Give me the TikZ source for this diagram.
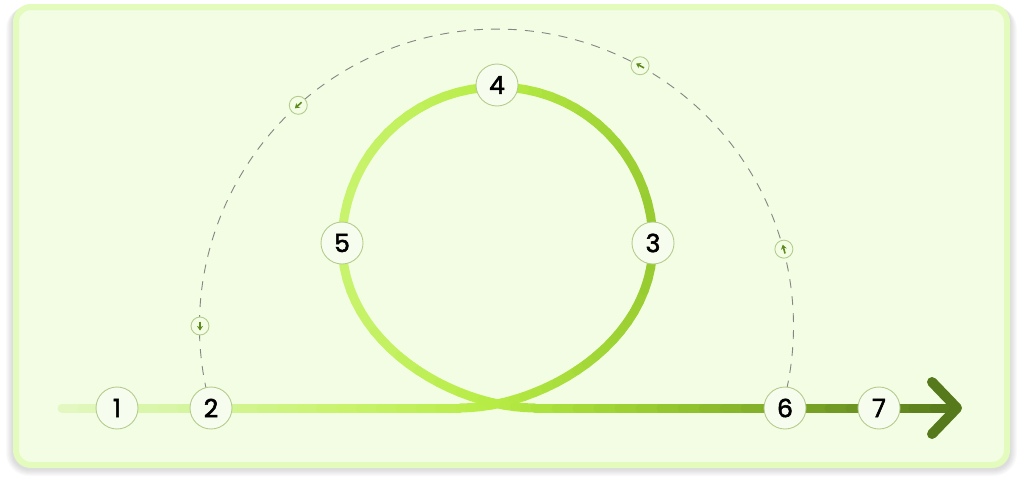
\documentclass[tikz,border=0pt]{standalone}
\usepackage{fontspec}
\newfontfamily\numfont{Poppins}[FakeBold=2.2]
\usetikzlibrary{arrows.meta}
\pgfdeclarelayer{bg}
\pgfsetlayers{bg,main}
\definecolor{cardfill}{HTML}{F3FDE3}
\definecolor{cardborder}{HTML}{E3FBBD}
\definecolor{s1}{HTML}{E3F8C2}
\definecolor{s2}{HTML}{D5F59E}
\definecolor{s3}{HTML}{C9F36E}
\definecolor{s4}{HTML}{B6EC44}
\definecolor{s5}{HTML}{97CB30}
\definecolor{s6}{HTML}{7EAA28}
\definecolor{s7}{HTML}{55791B}
\definecolor{nodefill}{HTML}{F7FDEE}
\definecolor{nodeborder}{HTML}{B5CC8E}
\definecolor{iconc}{HTML}{5E8A1E}
\definecolor{dashc}{HTML}{858585}
\newcommand\gmix[4]{\pgfmathtruncatemacro\gp{max(0,min(100,(\gx-#1)/(#2-#1)*100))}\colorlet{cc}{#4!\gp!#3}}
\newcommand\gcol[1]{%
  \pgfmathsetmacro\gx{#1}%
  \ifdim\gx pt<200pt \gmix{62}{200}{s1}{s2}\else
  \ifdim\gx pt<340pt \gmix{200}{340}{s2}{s3}\else
  \ifdim\gx pt<497pt \gmix{340}{497}{s3}{s4}\else
  \ifdim\gx pt<653pt \gmix{497}{653}{s4}{s5}\else
  \ifdim\gx pt<785pt \gmix{653}{785}{s5}{s6}\else
  \gmix{785}{955}{s6}{s7}\fi\fi\fi\fi\fi}
\newcommand\bezpt[9]{%
  \pgfmathsetmacro\bx{(1-#1)^3*#2+3*(1-#1)^2*#1*#4+3*(1-#1)*(#1)^2*#6+(#1)^3*#8}%
  \pgfmathsetmacro\by{(1-#1)^3*#3+3*(1-#1)^2*#1*#5+3*(1-#1)*(#1)^2*#7+(#1)^3*#9}}
\begin{document}
\begin{tikzpicture}[x=1pt,y=-1pt,
  seg/.style={line width=9pt,line cap=round},
  num/.style={circle,fill=nodefill,draw=nodeborder,line width=0.9pt,minimum size=42pt,inner sep=0pt,font=\numfont\fontsize{25}{25}\selectfont},
  icn/.style={circle,fill=cardfill,draw=nodeborder,line width=0.9pt,minimum size=18pt,inner sep=0pt},
  iar/.style={-{Stealth[length=4.5pt,width=6pt]},line width=1.6pt,iconc},
  dsh/.style={dashc,line width=0.9pt,dash pattern=on 9pt off 8pt}]
\useasboundingbox (0,0) rectangle (1024,490);
% numbered nodes
\node[num] (n1) at (117,408) {1};
\node[num] (n2) at (211,408) {2};
\node[num] (n3) at (653,243) {3};
\node[num] (n4) at (497,85) {4};
\node[num] (n5) at (342,243) {5};
\node[num] (n6) at (785,408) {6};
\node[num] (n7) at (879,408) {7};
% direction icons on the dashed arc
\coordinate (c) at (497,326);
\node[icn] (i1) at ([shift={(180:297)}]c) {};
\node[icn] (i2) at ([shift={(228:297)}]c) {};
\node[icn] (i3) at ([shift={(298.8:297)}]c) {};
\node[icn] (i4) at ([shift={(345:297)}]c) {};
\draw[iar] (i1.center) ++(270:4.5) -- ++(90:9);
\draw[iar] (i2.center) ++(318:4.5) -- ++(138:9);
\draw[iar] (i3.center) ++(28.8:4.5) -- ++(208.8:9);
\draw[iar] (i4.center) ++(75:4.5) -- ++(255:9);
\begin{pgfonlayer}{bg}
  % shadow and card
  \foreach \k in {1,...,7}{
    \fill[black,opacity=0.02,rounded corners=16+\k] (13-\k,6) rectangle (1010+\k,469+\k);
  }
  \draw[line width=6pt,draw=cardborder,fill=cardfill,rounded corners=15pt] (16,7) rectangle (1007,465);
  % dashed return arc
  \draw[dsh] (n2.center) arc[start angle=164,end angle=376,radius=297];
  % main line, left part
  \foreach \i in {0,...,19}{
    \pgfmathsetmacro\qax{62+\i*19.9}\pgfmathsetmacro\qbx{\qax+19.9}
    \gcol{(\qax+\qbx)/2}
    \draw[seg,cc] (\qax,408) -- (\qbx,408);
  }
  % rising curve to 3
  \foreach \i in {0,...,23}{
    \pgfmathsetmacro\ta{\i/24}\pgfmathsetmacro\tb{(\i+1)/24}
    \bezpt{\ta}{460}{408}{540}{408}{653}{345}{653}{243}\let\qax\bx\let\qay\by
    \bezpt{\tb}{460}{408}{540}{408}{653}{345}{653}{243}
    \gcol{(\qax+\bx)/2}
    \draw[seg,cc] (\qax,\qay) -- (\bx,\by);
  }
  % top arc 3 -> 4 -> 5
  \foreach \a in {0,5,...,175}{
    \pgfmathsetmacro\qax{497.5+155.5*cos(\a)}\pgfmathsetmacro\qay{243-156*sin(\a)}
    \pgfmathsetmacro\qbx{497.5+155.5*cos(\a+5)}\pgfmathsetmacro\qby{243-156*sin(\a+5)}
    \gcol{(\qax+\qbx)/2}
    \draw[seg,cc] (\qax,\qay) -- (\qbx,\qby);
  }
  % descending curve from 5
  \foreach \i in {0,...,23}{
    \pgfmathsetmacro\ta{\i/24}\pgfmathsetmacro\tb{(\i+1)/24}
    \bezpt{\ta}{342}{243}{342}{345}{455}{408}{535}{408}\let\qax\bx\let\qay\by
    \bezpt{\tb}{342}{243}{342}{345}{455}{408}{535}{408}
    \gcol{(\qax+\bx)/2}
    \draw[seg,cc] (\qax,\qay) -- (\bx,\by);
  }
  % main line, right part
  \foreach \i in {0,...,19}{
    \pgfmathsetmacro\qax{535+\i*21}\pgfmathsetmacro\qbx{\qax+21}
    \gcol{(\qax+\qbx)/2}
    \draw[seg,cc] (\qax,408) -- (\qbx,408);
  }
  % arrow head
  \coordinate (h1) at (932,382);
  \coordinate (h2) at (957,408);
  \coordinate (h3) at (932,434);
  \draw[s7,line width=10pt,line cap=round,line join=round] (h1) -- (h2) -- (h3);
\end{pgfonlayer}
\end{tikzpicture}
\end{document}
